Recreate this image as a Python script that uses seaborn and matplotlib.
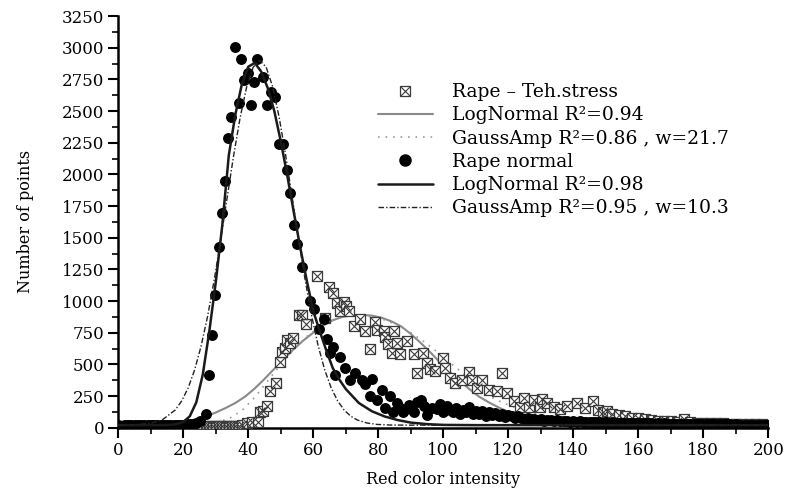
import matplotlib
matplotlib.use("Agg")
import matplotlib.pyplot as plt
import seaborn as sns
import numpy as np
import pandas as pd
from matplotlib.lines import Line2D
from matplotlib.ticker import MultipleLocator

# ---------------- data ----------------
# "Rape - Teh.stress" (crossed squares)
stress_x = list(range(0, 39)) + [
    39.5, 41.1, 42.9, 43.7, 44.5, 45.9, 46.8, 48.4, 49.8, 50.3, 51.2, 51.8, 52.7, 53.7,
    55.5, 56.5, 57.8, 61.1, 63.7, 64.7, 66.0, 67.2, 68.1, 69.3, 70.2, 70.9, 72.4, 74.5,
    76.0, 77.4, 79.0, 79.5, 81.6, 82.0, 83.0, 84.2, 84.9, 85.7, 86.8, 88.8, 90.9, 91.9,
    93.9, 95.0, 96.0, 97.5, 100.0, 100.6, 102.0, 103.7, 105.7, 107.8, 108.8, 110.4,
    111.9, 114.0, 116.5, 118.0, 119.6, 121.6, 123.5, 124.7, 126.5, 127.8, 129.6, 130.3,
    131.9, 133.9, 136.0, 138.0, 141.0, 143.7, 146.2, 147.5, 149.0, 150.5, 152.0, 154.0,
    156.0, 158.0, 160.0, 162.0, 164.0, 166.0, 168.0, 170.0, 172.0, 174.0, 176.0, 178.0,
    180.0, 182.0, 184.0, 186.0, 188.0, 190.0, 192.0, 194.0, 196.0, 198.0, 200.0]
stress_y = [12, 11, 12, 13, 12, 11, 12, 13, 12, 12, 13, 12, 11, 12, 13, 12, 12, 13, 12, 13,
            12, 13, 12, 13, 14, 13, 12, 14, 13, 14, 13, 14, 15, 14, 15, 16, 15, 17, 18] + [
    40, 42, 45, 121, 135, 169, 288, 354, 520, 600, 632, 692, 671, 711,
    887, 887, 816, 1199, 869, 1107, 1067, 988, 922, 993, 961, 922, 803, 861,
    763, 624, 838, 769, 763, 719, 658, 592, 763, 671, 578, 684, 578, 428,
    592, 512, 460, 446, 552, 473, 394, 354, 380, 438, 380, 315,
    380, 301, 288, 428, 275, 208, 163, 235, 163, 222, 163, 227,
    196, 164, 150, 174, 196, 156, 208, 140, 125, 130, 110, 100,
    90, 80, 75, 68, 60, 55, 52, 50, 45, 69, 42, 40,
    38, 36, 34, 33, 32, 30, 30, 28, 28, 26, 25]

# "Rape normal" (black dots)
normal_x = list(range(0, 26)) + [
    26.9, 28.0, 28.8, 29.8, 30.9, 31.9, 32.9, 33.9, 34.7, 35.9, 37.0, 37.8, 38.8, 39.8,
    40.9, 41.8, 42.8, 44.6, 45.9, 46.9, 48.2, 49.3, 50.8, 51.8, 52.8, 54.2, 55.0, 56.5,
    59.0, 60.1, 61.6, 63.2, 64.2, 65.2, 66.2, 66.8, 68.3, 69.8, 71.4, 72.9, 75.0, 76.0,
    77.5, 78.0, 79.6, 81.1, 82.2, 83.7, 84.6, 85.7, 86.5, 87.5, 88.0, 89.3, 90.0, 91.0,
    91.9, 93.0, 94.0, 95.0, 96.5] + list(range(98, 201))
normal_y = [18, 17, 19, 18, 20, 19, 18, 20, 19, 21, 20, 19, 20, 21, 20, 22, 21, 22, 23, 23,
            24, 26, 28, 32, 38, 50] + [
    110, 414, 729, 1046, 1424, 1696, 1947, 2288, 2451, 3003, 2565, 2908, 2744, 2797,
    2546, 2731, 2908, 2771, 2546, 2652, 2612, 2242, 2242, 2031, 1852, 1600, 1450, 1265,
    1000, 935, 777, 856, 697, 592, 639, 412, 560, 473, 380, 433, 380, 341,
    248, 386, 222, 296, 156, 248, 127, 196, 160, 127, 140, 182, 150, 127,
    201, 222, 170, 103, 156] + [
    150, 190, 125, 170, 140, 120, 155, 110, 140, 125, 160, 110, 135, 105, 130, 95,
    120, 100, 115, 90, 105, 85, 100, 95, 80, 90, 75, 70, 80, 65, 70, 60,
    65, 55, 62, 58, 55, 60, 52, 50, 55, 48, 52, 47, 50, 45, 48, 44,
    46, 42, 45, 40, 43, 40, 42, 38, 40, 37, 39, 36, 38, 35, 37, 34,
    36, 33, 35, 32, 34, 32, 33, 31, 32, 30, 31, 30, 30, 29, 30, 28,
    29, 28, 28, 27, 28, 27, 27, 26, 27, 26, 26, 25, 26, 25, 25, 24,
    25, 24, 24, 23, 24, 23, 22]

# fitted curves
stress_ln_x = [0, 5, 10, 13, 16, 20, 24, 27, 30, 33, 36, 39, 42, 45, 48, 51, 54, 57, 60,
               63, 66, 69, 72, 75, 78, 81, 84, 87, 90, 93, 96, 99, 102, 105, 108, 111,
               114, 117, 120, 124, 128, 132, 136, 142, 150, 170, 200]
stress_ln_y = [18, 18, 20, 24, 30, 42, 62, 88, 120, 155, 195, 245, 310, 385, 465, 545,
               620, 690, 750, 805, 848, 875, 888, 890, 885, 868, 840, 800, 740, 670,
               595, 515, 440, 370, 305, 245, 200, 160, 125, 85, 55, 38, 27, 21, 20, 20, 20]

stress_ga_x = [0, 10, 20, 25, 30, 34, 38, 42, 46, 50, 54, 58, 62, 66, 70, 74, 78, 82,
               86, 90, 94, 98, 102, 106, 110, 114, 118, 122, 126, 130, 135, 140, 145,
               150, 160, 170, 185, 200]
stress_ga_y = [25, 25, 27, 30, 42, 70, 135, 240, 370, 500, 620, 720, 800, 850, 878, 885,
               875, 850, 810, 750, 680, 600, 515, 430, 330, 250, 200, 160, 130, 100, 72,
               55, 44, 37, 30, 27, 26, 25]

normal_ln_x = [0, 10, 15, 18, 20, 22, 24, 26, 28, 30, 32, 34, 36, 38, 40, 42, 44, 46, 48,
               50, 52, 54, 56, 58, 60, 62, 64, 66, 68, 70, 74, 78, 82, 86, 90, 95, 100,
               110, 120, 140, 170, 200]
normal_ln_y = [20, 20, 21, 28, 45, 90, 200, 420, 760, 1150, 1600, 2150, 2470, 2710, 2850,
               2880, 2810, 2680, 2500, 2260, 1990, 1700, 1420, 1160, 920, 760, 610, 470,
               380, 305, 195, 130, 88, 60, 40, 28, 22, 20, 20, 20, 20, 20]

normal_ga_x = [0, 5, 10, 13.5, 17.5, 19.5, 21.5, 23.5, 25.5, 27.5, 29.5, 31.5, 33.5, 35.5,
               37.5, 39.5, 41.5, 43.5, 45.5, 47.5, 49.5, 51.5, 53.5, 55.5, 57.5, 59.5,
               61.5, 63.5, 65.5, 67.5, 69.5, 71.5, 73.5, 76.5, 79.5, 83.5, 90, 100, 120,
               150, 200]
normal_ga_y = [20, 23, 35, 61, 139, 211, 314, 457, 646, 882, 1164, 1481, 1818, 2150,
               2450, 2691, 2846, 2900, 2846, 2691, 2450, 2150, 1818, 1481, 1164, 882,
               646, 457, 314, 211, 139, 91, 61, 37, 26, 21, 20, 20, 20, 20, 20]

labels = ["Rape – Teh.stress", "LogNormal R²=0.94", "GaussAmp R²=0.86 , w=21.7",
          "Rape normal", "LogNormal R²=0.98", "GaussAmp R²=0.95 , w=10.3"]

# ---------------- styling ----------------
sns.set_theme(style="ticks")
plt.rcParams["font.family"] = ["DejaVu Serif"]
plt.rcParams["font.size"] = 12
plt.rcParams["text.color"] = "black"
plt.rcParams["axes.labelcolor"] = "black"

GRAY = "#8a8a8a"
SQ_EDGE = "#3a3a3a"
DASHDOT = (0, (4, 1.5, 1, 1.5))
DOTTED = (0, (1, 3.5))

fig = plt.figure(figsize=(7.87, 4.93), dpi=100)
ax = fig.add_axes([0.1503, 0.1325, 0.826, 0.835])

# fits for stressed sample (under the squares)
sns.lineplot(x=stress_ln_x, y=stress_ln_y, color=GRAY, lw=1.5, ax=ax,
             estimator=None, sort=False, zorder=2)
sns.lineplot(x=stress_ga_x, y=stress_ga_y, color="#9a9a9a", lw=1.2, ax=ax,
             estimator=None, sort=False, linestyle=DOTTED, zorder=2)

# crossed squares
sns.scatterplot(x=stress_x, y=stress_y, marker="s", s=50, facecolor="white",
                edgecolor=SQ_EDGE, linewidth=0.9, ax=ax, zorder=3, legend=False)
sns.scatterplot(x=stress_x, y=stress_y, marker="x", s=50, color=SQ_EDGE,
                linewidth=0.8, ax=ax, zorder=3.1, legend=False)

# black dots
sns.scatterplot(x=normal_x, y=normal_y, marker="o", s=62, color="black",
                linewidth=0, ax=ax, zorder=4, legend=False)

# fits for normal sample
sns.lineplot(x=normal_ln_x, y=normal_ln_y, color="#1a1a1a", lw=1.8, ax=ax,
             estimator=None, sort=False, zorder=5)
sns.lineplot(x=normal_ga_x, y=normal_ga_y, color="#222222", lw=1.0, ax=ax,
             estimator=None, sort=False, linestyle=DASHDOT, zorder=5)

# axes
ax.set_xlim(0, 200)
ax.set_ylim(0, 3250)
ax.xaxis.set_major_locator(MultipleLocator(20))
ax.xaxis.set_minor_locator(MultipleLocator(10))
ax.yaxis.set_major_locator(MultipleLocator(250))
ax.yaxis.set_minor_locator(MultipleLocator(125))
for side in ["top", "right"]:
    ax.spines[side].set_visible(False)
for side in ["left", "bottom"]:
    ax.spines[side].set_linewidth(1.8)
    ax.spines[side].set_color("black")
ax.tick_params(which="major", direction="out", length=7, width=1.5, color="black",
               labelsize=12, labelcolor="black", pad=3)
ax.tick_params(which="minor", direction="out", length=4, width=1.2, color="black")
ax.set_xlabel("Red color intensity", fontsize=11.5, color="black", labelpad=9)
ax.set_ylabel("Number of points", fontsize=11.5, color="black", labelpad=20)
ax.grid(False)

# legend
h_sq = (Line2D([], [], ls="", marker="s", ms=7, mfc="white", mec=SQ_EDGE, mew=0.9),
        Line2D([], [], ls="", marker="x", ms=7, color=SQ_EDGE, mew=0.8))
h_gs = Line2D([], [], color=GRAY, lw=1.5)
h_gd = Line2D([], [], color="#9a9a9a", lw=1.2, ls=DOTTED)
h_dot = Line2D([], [], ls="", marker="o", ms=8, color="black")
h_bs = Line2D([], [], color="#1a1a1a", lw=1.8)
h_bd = Line2D([], [], color="#222222", lw=1.0, ls=DASHDOT)
leg = ax.legend([h_sq, h_gs, h_gd, h_dot, h_bs, h_bd], labels, loc="upper left",
                bbox_to_anchor=(0.3994, 0.837), frameon=False, fontsize=13.5,
                handlelength=2.93, handletextpad=1.0, labelspacing=0.28,
                borderpad=0, borderaxespad=0)
for t in leg.get_texts():
    t.set_color("black")

fig.savefig("out.png", dpi=100)
